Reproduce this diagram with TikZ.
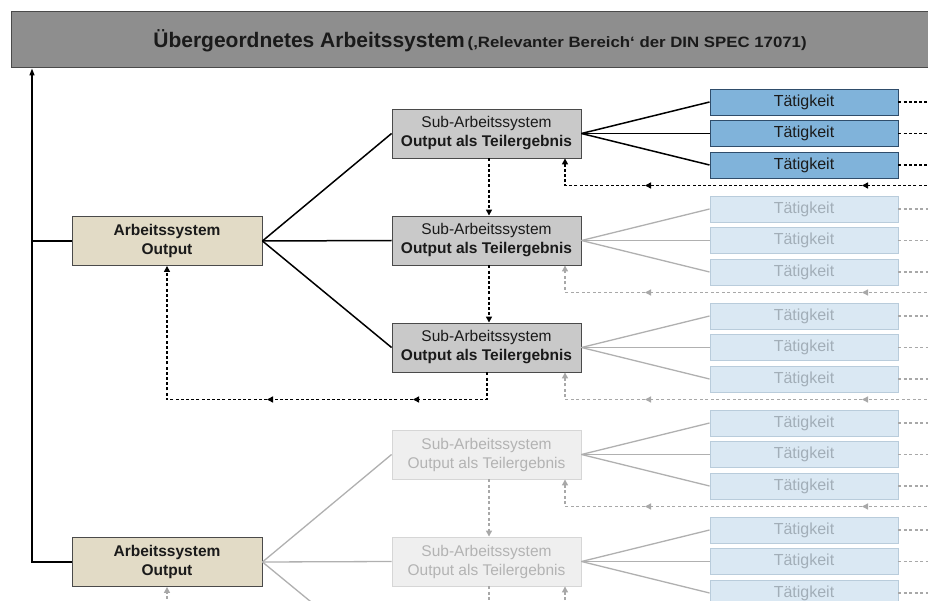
\documentclass[tikz,border=0pt]{standalone}
\usepackage{fontspec}
\setmainfont{Liberation Sans}
\newfontfamily\widesans[FakeStretch=1.12]{Liberation Sans}
\usetikzlibrary{arrows.meta}
\definecolor{barfill}{HTML}{8E8E8E}
\definecolor{barline}{HTML}{4A4A4A}
\definecolor{arbfill}{HTML}{E2DBC6}
\definecolor{subfill}{HTML}{C9C9C9}
\definecolor{tfill}{HTML}{80B3DA}
\definecolor{tline}{HTML}{2F4D6B}
\definecolor{tffill}{HTML}{DAE8F3}
\definecolor{tfline}{HTML}{B9CCDB}
\definecolor{tftext}{HTML}{A2AEB8}
\definecolor{sffill}{HTML}{EFEFEF}
\definecolor{sfline}{HTML}{D6D6D6}
\definecolor{sftext}{HTML}{B3B3B3}
\definecolor{fadeline}{HTML}{B0B0B0}
\definecolor{fadedash}{HTML}{A8A8A8}
\definecolor{txt}{HTML}{1A1A1A}
\begin{document}
\begin{tikzpicture}[x=1pt,y=-1pt,
  box/.style={draw, rectangle, inner sep=0pt, align=center, line width=0.9pt},
  arbbox/.style={box, fill=arbfill, draw=barline, minimum width=190pt, minimum height=49pt, font=\fontsize{15.5}{19}\selectfont\bfseries, text=txt},
  subA/.style={box, fill=subfill, draw=barline, minimum width=189pt, minimum height=49pt, font=\fontsize{15.5}{19}\selectfont, text=txt},
  subF/.style={box, fill=sffill, draw=sfline, minimum width=189pt, minimum height=49pt, font=\fontsize{15.5}{19}\selectfont, text=sftext},
  tA/.style={box, fill=tfill, draw=tline, minimum width=188pt, minimum height=26pt, font=\fontsize{16}{18}\selectfont, text=txt},
  tF/.style={box, fill=tffill, draw=tfline, minimum width=188pt, minimum height=26pt, font=\fontsize{16}{18}\selectfont, text=tftext},
  blk/.style={line width=1.5pt, black},
  gry/.style={line width=1.3pt, fadeline},
  blkd/.style={line width=1.6pt, black, dash pattern=on 3pt off 2.2pt},
  gryd/.style={line width=1.3pt, fadedash, dash pattern=on 3pt off 2.5pt},
  tip/.style={-{Triangle[length=6pt,width=6pt]}},
  uptip/.style={-{Triangle[length=7pt,width=5pt]}}
]
\clip (0,0) rectangle (928,601);
\fill[white] (0,0) rectangle (928,601);

% top bar
\node[draw=barline, fill=barfill, minimum width=940pt, minimum height=56pt, inner sep=0pt, line width=1pt] (top) at (481,40) {};
\node[text=txt, inner sep=0pt] (title) at (480,41) {{\fontsize{21}{25}\selectfont\bfseries Übergeordnetes Arbeitssystem} {\widesans\fontsize{15}{18}\selectfont\bfseries (‚Relevanter Bereich‘ der DIN SPEC 17071)}};

% main boxes
\node[arbbox] (a1) at (167,241) {Arbeitssystem\\Output};
\node[arbbox] (a2) at (167,562) {Arbeitssystem\\Output};

% sub boxes
\node[subA] (s1) at (486.5,133.5) {Sub-Arbeitssystem\\\textbf{Output als Teilergebnis}};
\node[subA] (s2) at (486.5,240.5) {Sub-Arbeitssystem\\\textbf{Output als Teilergebnis}};
\node[subA] (s3) at (486.5,347.5) {Sub-Arbeitssystem\\\textbf{Output als Teilergebnis}};
\node[subF] (s4) at (486.5,454.5) {Sub-Arbeitssystem\\Output als Teilergebnis};
\node[subF] (s5) at (486.5,561.5) {Sub-Arbeitssystem\\Output als Teilergebnis};
\coordinate (s6w) at (392,668.5);

% left spine
\coordinate (lc) at (32,562);
\draw[blk, uptip] (a2.west) -- (lc) -- (lc |- top.south);
\draw[blk] (a1.west) -- (a1.west -| lc);

% fans from main boxes
\draw[blk] (a1.east) -- (s1.west);
\draw[blk] (a1.east) -- (s2.west);
\draw[blk] (a1.east) -- (s3.west);
\draw[gry] (a2.east) -- (s4.west);
\draw[gry] (a2.east) -- (s5.west);
\draw[gry] (a2.east) -- (s6w);

% groups of activities
\foreach \i/\ts/\ls/\ds in {1/tA/blk/blkd,2/tF/gry/gryd,3/tF/gry/gryd,4/tF/gry/gryd,5/tF/gry/gryd}{
  \pgfmathsetmacro\c{133.5+107*(\i-1)}
  \pgfmathsetmacro\r{\c+52}
  \node[\ts] (ta\i) at (804,\c-31.5) {Tätigkeit};
  \node[\ts] (tb\i) at (804,\c) {Tätigkeit};
  \node[\ts] (tc\i) at (804,\c+31.5) {Tätigkeit};
  \draw[\ls] (s\i.east) -- (ta\i.west);
  \draw[\ls] (s\i.east) -- (tb\i.west);
  \draw[\ls] (s\i.east) -- (tc\i.west);
  \coordinate (ea\i) at (932,\c-31.5);
  \coordinate (eb\i) at (932,\c);
  \coordinate (ec\i) at (932,\c+31.5);
  \draw[\ds] (ta\i.east) -- (ea\i);
  \draw[\ds] (tb\i.east) -- (eb\i);
  \draw[\ds] (tc\i.east) -- (ec\i);
  \coordinate (re\i) at (932,\r);
  \coordinate (ra\i) at (862,\r);
  \coordinate (rb\i) at (645,\r);
  \coordinate (rc\i) at (565,\r);
  \draw[\ds, tip] (re\i) -- (ra\i);
  \draw[\ds, tip] (ra\i) -- (rb\i);
  \draw[\ds, tip] (rb\i) -- (rc\i) -- (rc\i |- s\i.south);
}

% sub to sub
\draw[blkd, tip] ([xshift=2.5pt]s1.south) -- ([xshift=2.5pt]s2.north);
\draw[blkd, tip] ([xshift=2.5pt]s2.south) -- ([xshift=2.5pt]s3.north);
\draw[gryd, tip] ([xshift=2.5pt]s4.south) -- ([xshift=2.5pt]s5.north);
\coordinate (s5d) at (489,625);
\draw[gryd] ([xshift=2.5pt]s5.south) -- (s5d);

% return from sub 3 to main box 1
\coordinate (qa) at (487,399.5);
\coordinate (qb) at (413,399.5);
\coordinate (qc) at (267,399.5);
\coordinate (qd) at (167,399.5);
\draw[blkd, tip] ([xshift=0.5pt]s3.south) -- (qa) -- (qb);
\draw[blkd, tip] (qb) -- (qc);
\draw[blkd, tip] (qc) -- (qd) -- (a1.south);

% return into main box 2
\coordinate (ab) at (167,615);
\draw[gryd, tip] (ab) -- (a2.south);
\end{tikzpicture}
\end{document}
